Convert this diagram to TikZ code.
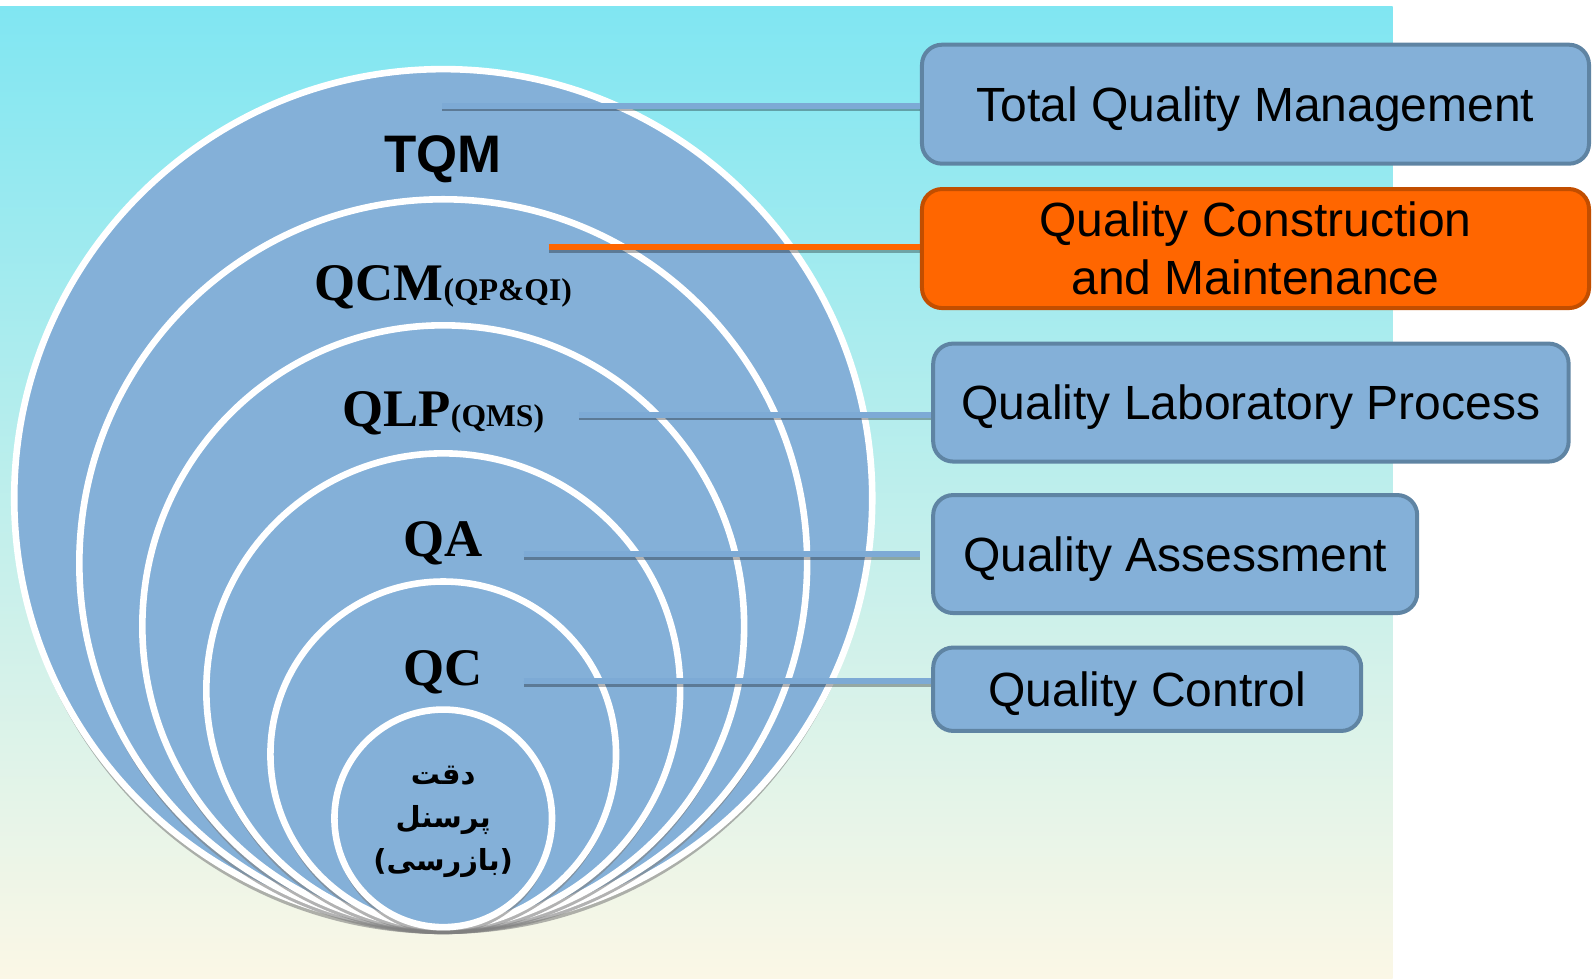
\documentclass[tikz,border=0pt]{standalone}
\usepackage{fontspec}
\setmainfont{Liberation Sans}
\newfontfamily\timesfont{Liberation Serif}
\newfontfamily\persianfont[Script=Arabic]{DejaVu Sans}
\TeXXeTstate=1
\usetikzlibrary{shadows}
\definecolor{ringblue}{HTML}{84B0D8}
\definecolor{boxedge}{HTML}{5F84A3}
\definecolor{qcmorange}{HTML}{FF6600}
\definecolor{qcmedge}{HTML}{C24E00}
\definecolor{linkblue}{HTML}{7DAAD5}
\definecolor{skytop}{HTML}{80E6F2}
\definecolor{skymid}{HTML}{DDF1EF}
\definecolor{sandbot}{HTML}{FBF7E6}

\begin{document}
\begin{tikzpicture}
		[x=0.50829pt,y=-0.50829pt]
		\tikzstyle{ring}=[circle, draw=white, line width=3.3pt, fill=ringblue,
		inner sep=0pt, drop shadow={shadow xshift=0pt, shadow yshift=-3.5pt, opacity=0.6}]
		\tikzstyle{qbox}=[rectangle, rounded corners=10pt, draw=boxedge, line width=2pt,
		fill=ringblue, inner sep=0pt, align=center, text depth=0pt, font=\fontsize{24}{29}\selectfont]
		\tikzstyle{ringtext}=[font=\timesfont\bfseries\fontsize{26.4}{30}\selectfont]
		\tikzstyle{link}=[line width=3pt, preaction={draw=black, opacity=0.3,
		line width=3pt, transform canvas={yshift=-1.3pt}}]
		\useasboundingbox (0,0) rectangle (1568,962.05);
		\shade[top color=skytop, middle color=skymid, bottom color=sandbot] (0,6) rectangle (1370,962.05);
		%-----rings
		 \node[ring, minimum size=429pt] (cTQM) at (436,490) {};
		 \node[ring, minimum size=363.9pt] (cQCM) at (436,554) {};
		 \node[ring, minimum size=300.9pt] (cQLP) at (436,616) {};
		 \node[ring, minimum size=236.9pt] (cQA) at (436,679) {};
		 \node[ring, minimum size=172.8pt] (cQC) at (436,742) {};
		 \node[ring, minimum size=108.8pt] (cDQ) at (436,805) {};
		 \node[font=\bfseries\fontsize{26.4}{30}\selectfont] (lTQM) at (436,157) {TQM};
		 \node[ringtext] (lQCM) at (436,283) {QCM{\fontsize{15.8}{18}\selectfont(QP\&QI)}};
		 \node[ringtext] (lQLP) at (436,407) {QLP{\fontsize{15.8}{18}\selectfont(QMS)}};
		 \node[ringtext] (lQA) at (436,534) {QA};
		 \node[ringtext] (lQC) at (436,661) {QC};
		 \node[font=\persianfont\bfseries\fontsize{14.5}{21.5}\selectfont, align=center] (lDQ) at (436,808)
		 {\beginR دقت\endR\\ \beginR پرسنل\endR\\ \beginR (بازرسی)\endR};
		%-----links
		 \coordinate (sTQM) at (435,104);
		 \coordinate (sQCM) at (540,243);
		 \coordinate (sQLP) at (570,408);
		 \coordinate (sQA) at (515,545);
		 \coordinate (eQA) at (905,545);
		 \coordinate (sQC) at (515,670);
		%-----boxes
		 \node[qbox, minimum width=333.5pt, minimum height=59.5pt] (BTQM) at (1235,102.5) {Total Quality Management};
		 \node[qbox, fill=qcmorange, draw=qcmedge, minimum width=333.5pt, minimum height=59.5pt] (BQCM) at (1235,244.5) {Quality Construction\\and Maintenance};
		 \node[qbox, minimum width=317.7pt, minimum height=59pt] (BQLP) at (1230.5,396) {Quality Laboratory Process};
		 \node[qbox, minimum width=242pt, minimum height=59pt] (BQA) at (1156,545) {Quality Assessment};
		 \node[qbox, minimum width=214pt, minimum height=41.7pt] (BQC) at (1128.5,678) {Quality Control};
		 
		 \foreach \from/\to/\col in {sTQM/BTQM.west/linkblue,sQCM/BQCM.west/qcmorange,sQLP/BQLP.west/linkblue,sQA/eQA/linkblue,sQC/BQC.west/linkblue}
		 \draw[link, draw=\col] (\from) -- (\from -| \to);
		 
\end{tikzpicture}
\end{document}
